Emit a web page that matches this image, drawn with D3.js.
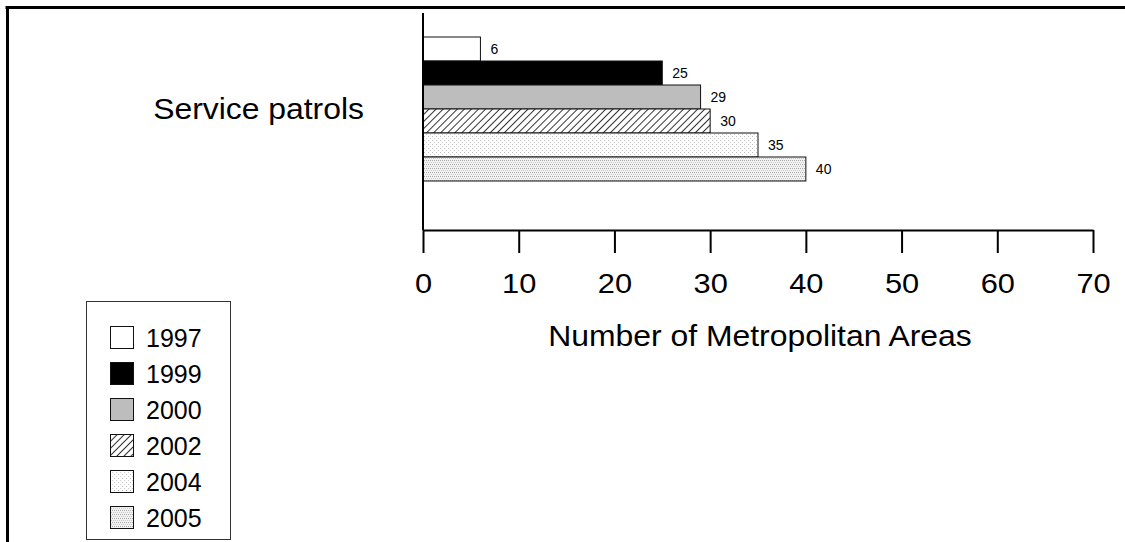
<!DOCTYPE html>
<html>

<head>
    <meta charset="utf-8">
    <title>Service patrols</title>
    <style>
        body { margin: 0; background: #fff; }
        text { font-family: "Liberation Sans", Arial, sans-serif; fill: #000; }
    </style>
</head>

<body>
    <svg class="chart"></svg>
    <script src="https://cdn.jsdelivr.net/npm/d3@7"></script>
    <script>
        // data
        const categories = ["Service patrols"]
        const years = ["1997", "1999", "2000", "2002", "2004", "2005"]
        const values = [6, 25, 29, 30, 35, 40]
        const tickValues = [0, 10, 20, 30, 40, 50, 60, 70]
        const axisTitle = "Number of Metropolitan Areas"

        const width = 1125, height = 542
        const plot = { left: 423, right: 1093, top: 13, bottom: 230 }
        const stretch = 1.1   // the source text is a little wide

        const svg = d3.select(".chart")
            .attr("width", width)
            .attr("height", height)

        const defs = svg.append("defs")

        // hatch for 2002
        const hatch = defs.append("pattern")
            .attr("id", "p2002")
            .attr("patternUnits", "userSpaceOnUse")
            .attr("width", 5).attr("height", 5)
            .attr("patternTransform", "rotate(45)")
        hatch.append("rect").attr("width", 5).attr("height", 5).attr("fill", "#fff")
        hatch.append("line")
            .attr("x1", 0).attr("y1", 0).attr("x2", 0).attr("y2", 5)
            .attr("stroke", "#000").attr("stroke-width", 1.6)

        // light dots for 2004
        const dots = defs.append("pattern")
            .attr("id", "p2004")
            .attr("patternUnits", "userSpaceOnUse")
            .attr("width", 4).attr("height", 4)
        dots.append("rect").attr("width", 4).attr("height", 4).attr("fill", "#fff")
        dots.append("rect").attr("x", 0).attr("y", 0).attr("width", 1).attr("height", 1).attr("fill", "#bbb")
        dots.append("rect").attr("x", 2).attr("y", 2).attr("width", 1).attr("height", 1).attr("fill", "#ccc")

        // denser dots for 2005
        const dense = defs.append("pattern")
            .attr("id", "p2005")
            .attr("patternUnits", "userSpaceOnUse")
            .attr("width", 4).attr("height", 4)
        dense.append("rect").attr("width", 4).attr("height", 4).attr("fill", "#f2f2f2")
        dense.append("rect").attr("x", 0).attr("y", 0).attr("width", 1).attr("height", 1).attr("fill", "#aaa")
        dense.append("rect").attr("x", 2).attr("y", 0).attr("width", 1).attr("height", 1).attr("fill", "#aaa")
        dense.append("rect").attr("x", 1).attr("y", 2).attr("width", 1).attr("height", 1).attr("fill", "#c8c8c8")
        dense.append("rect").attr("x", 3).attr("y", 2).attr("width", 1).attr("height", 1).attr("fill", "#c8c8c8")

        const fills = {
            "1997": "#fff",
            "1999": "#000",
            "2000": "#bdbdbd",
            "2002": "url(#p2002)",
            "2004": "url(#p2004)",
            "2005": "url(#p2005)"
        }

        // frame (top and left only)
        svg.append("line")
            .attr("x1", 5.5).attr("x2", width).attr("y1", 7.5).attr("y2", 7.5)
            .attr("stroke", "#000").attr("stroke-width", 3)
        svg.append("line")
            .attr("x1", 7.5).attr("x2", 7.5).attr("y1", 6).attr("y2", height)
            .attr("stroke", "#000").attr("stroke-width", 3)

        var xScale = d3.scaleLinear()
            .domain([0, 70])
            .range([plot.left, plot.right])

        var yScale = d3.scaleBand()
            .domain(categories)
            .range([37, 181])

        var yInner = d3.scaleBand()
            .domain(years)
            .range([0, yScale.bandwidth()])

        // bars
        const rows = years.map((y, i) => ({ cat: categories[0], year: y, value: values[i] }))

        svg.append("g")
            .selectAll("rect")
            .data(rows)
            .enter()
            .append("rect")
            .attr("x", xScale(0))
            .attr("y", d => yScale(d.cat) + yInner(d.year))
            .attr("width", d => xScale(d.value) - xScale(0))
            .attr("height", yInner.bandwidth())
            .attr("fill", d => fills[d.year])
            .attr("stroke", "#111")
            .attr("stroke-width", 1)

        svg.append("g")
            .selectAll("text")
            .data(rows)
            .enter()
            .append("text")
            .attr("x", d => xScale(d.value) + 10)
            .attr("y", d => yScale(d.cat) + yInner(d.year) + yInner.bandwidth() / 2)
            .attr("dy", "0.35em")
            .style("font-size", "14px")
            .text(d => d.value)

        // x axis
        const xAxis = svg.append("g")
            .attr("transform", `translate(0, ${plot.bottom})`)
            .call(d3.axisBottom(xScale).tickValues(tickValues).tickSize(23).tickPadding(20).tickSizeOuter(0))
        xAxis.select(".domain").attr("stroke", "#000").attr("stroke-width", 2)
        xAxis.selectAll(".tick line").attr("stroke", "#000").attr("stroke-width", 2)
        xAxis.selectAll(".tick text")
            .style("font-family", "'Liberation Sans', Arial, sans-serif")
            .style("font-size", "28px")
            .attr("fill", "#000")
            .attr("transform", `scale(${stretch},1)`)

        // y axis line
        svg.append("line")
            .attr("x1", xScale(0)).attr("x2", xScale(0))
            .attr("y1", plot.top).attr("y2", plot.bottom)
            .attr("stroke", "#000").attr("stroke-width", 2)

        svg.append("text")
            .attr("transform", `translate(${(plot.left + plot.right) / 2 + 2}, 346) scale(${stretch},1)`)
            .attr("text-anchor", "middle")
            .style("font-size", "29px")
            .text(axisTitle)

        svg.selectAll("text.cat")
            .data(categories)
            .enter()
            .append("text")
            .attr("class", "cat")
            .attr("transform", d => `translate(364, ${yScale(d) + yScale.bandwidth() / 2}) scale(${stretch},1)`)
            .attr("dy", "0.35em")
            .attr("text-anchor", "end")
            .style("font-size", "29px")
            .text(d => d)

        // legend
        const legend = svg.append("g")
        legend.append("rect")
            .attr("x", 86.5).attr("y", 301.5)
            .attr("width", 144).attr("height", 238)
            .attr("fill", "#fff")
            .attr("stroke", "#333").attr("stroke-width", 1)

        const item = legend.selectAll("g.item")
            .data(years)
            .enter()
            .append("g")
            .attr("class", "item")
            .attr("transform", (d, i) => `translate(110, ${326 + i * 36})`)
        item.append("rect")
            .attr("x", 0.5).attr("y", 0.5)
            .attr("width", 23).attr("height", 22)
            .attr("fill", d => fills[d])
            .attr("stroke", "#111")
        item.append("text")
            .attr("x", 36)
            .attr("y", 12)
            .attr("dy", "0.35em")
            .style("font-size", "25px")
            .text(d => d)
    </script>
</body>

</html>
